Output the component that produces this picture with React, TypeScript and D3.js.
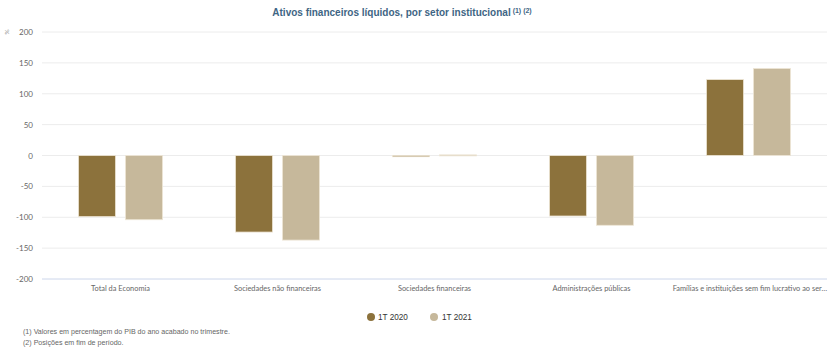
import React from "react";
import * as d3 from "d3";

const categories = [
  "Total da Economia",
  "Sociedades não financeiras",
  "Sociedades financeiras",
  "Administrações públicas",
  "Famílias e instituições sem fim lucrativo ao ser…",
];
const seriesNames = ["1T 2020", "1T 2021"];
const values2020 = [-99, -124, -2, -98, 123];
const values2021 = [-104, -137, 1, -113, 141];
const yTicks = [200, 150, 100, 50, 0, -50, -100, -150, -200];
const colors = ["#8c723c", "#c6b89b"];
const footnotes = [
  "(1) Valores em percentagem do PIB do ano acabado no trimestre.",
  "(2) Posições em fim de período.",
];

export default function App() {
  const W = 831, H = 351;
  const left = 42, right = 827, top = 32, bottom = 279;
  const x = d3.scaleBand<string>().domain(categories).range([left, right]);
  const bw = x.bandwidth();
  const xs = d3.scaleBand<string>().domain(seriesNames).range([bw * 0.232, bw * 0.768]).paddingInner(0.21);
  const y = d3.scaleLinear().domain([-200, 200]).range([bottom, top]);
  const series = [values2020, values2021];
  const axisFont = "Lato, 'Open Sans', sans-serif";
  const textFont = "'Liberation Sans', Arial, sans-serif";
  return (
    <svg width={W} height={H} style={{ position: "absolute", left: 0, top: 0, background: "#fff" }}>
      <text x={402} y={16} textAnchor="middle" fontFamily={textFont} fontSize={10} fontWeight="bold" fill="#3e6584">
        Ativos financeiros líquidos, por setor institucional
        <tspan fontSize={7} dy={-3}> (1) (2)</tspan>
      </text>
      <text x={7} y={34} fontFamily={axisFont} fontSize={6.5} fill="#888" transform="rotate(-90 7 32)" textAnchor="middle">%</text>
      {yTicks.map((t) => (
        <g key={t}>
          <line x1={left} x2={right} y1={y(t)} y2={y(t)} stroke={t === -200 ? "#ccd6eb" : "#ececec"} strokeWidth={1} />
          <text x={33} y={y(t) + 3} textAnchor="end" fontFamily={axisFont} fontSize={8} fill="#666">{t}</text>
        </g>
      ))}
      {categories.map((c, i) => {
        const last = i === categories.length - 1;
        return (
          <g key={c}>
            {series.map((vals, si) => {
              const v = vals[i];
              const bx = (x(c) as number) + (xs(seriesNames[si]) as number);
              const y0 = y(Math.max(0, v));
              const h = Math.abs(y(v) - y(0));
              return (
                <rect key={si} x={bx} y={y0} width={xs.bandwidth()} height={Math.max(h, 1)} fill={colors[si]} stroke="#eee6d6" strokeWidth={0.8} />
              );
            })}
            <text
              x={last ? right : (x(c) as number) + bw / 2}
              y={291}
              textAnchor={last ? "end" : "middle"}
              fontFamily={axisFont}
              fontSize={7.4}
              fill="#666"
            >
              {c}
            </text>
          </g>
        );
      })}
      {seriesNames.map((s, i) => (
        <g key={s}>
          <circle cx={371 + i * 63} cy={317} r={4} fill={colors[i]} />
          <text x={378 + i * 64} y={320} fontFamily={textFont} fontSize={8.2} fill="#333">{s}</text>
        </g>
      ))}
      {footnotes.map((f, i) => (
        <text key={f} x={23} y={334 + i * 10.5} fontFamily={textFont} fontSize={7.1} fill="#666">{f}</text>
      ))}
    </svg>
  );
}
